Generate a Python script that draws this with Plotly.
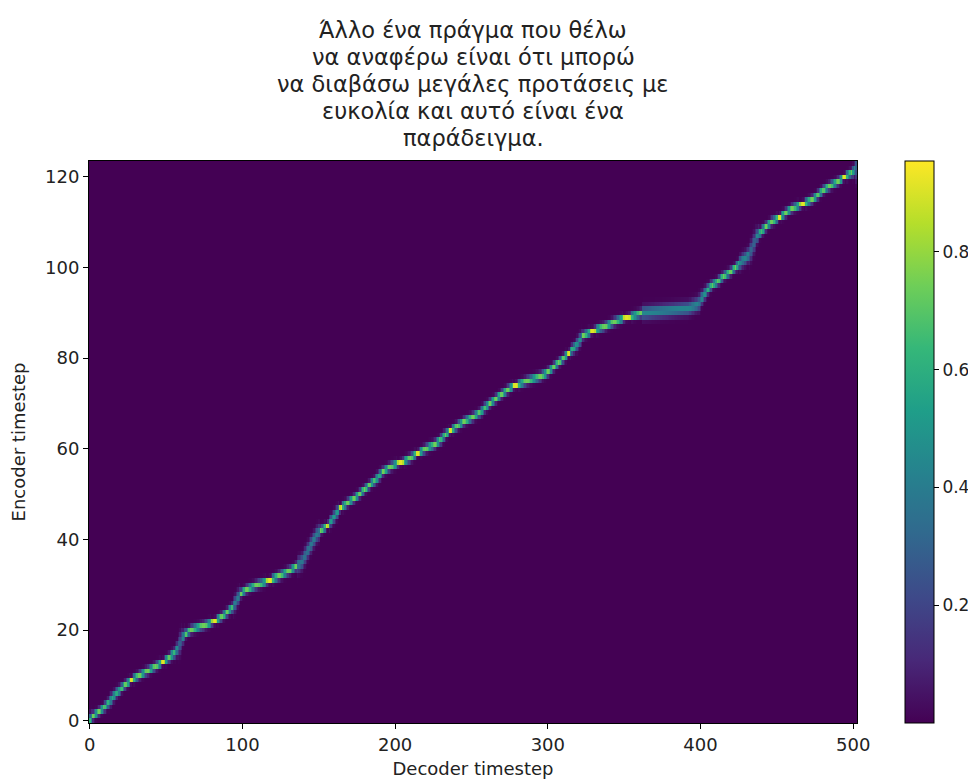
import numpy as np
import plotly.graph_objects as go

# ---- data ----
n_decoder = 503
n_encoder = 124

# decoder timestep at which the attention band is centred on each encoder timestep (0..123)
enc_center_step = [
    0, 2, 6.1, 9.8, 12.7, 14.9, 17.4, 20.1, 23.4, 27.2,
    32.4, 37.8, 43, 48, 52.6, 55.5, 57.6, 59, 60.2, 62.2,
    66, 74.7, 82, 86.7, 90.5, 93.5, 95.2, 96.8, 98.5, 102.5,
    109.6, 118, 124.3, 130.5, 135.3, 139, 140.6, 142.1, 143.7, 145.3,
    147, 148.7, 150.9, 155.5, 157.7, 160, 162.2, 164.5, 168.6, 173.1,
    176.7, 180, 183.5, 186.8, 189.4, 192, 196.7, 203.6, 210, 214.5,
    219.9, 226.1, 229.9, 232.7, 236.3, 241, 244.9, 251, 256, 258.7,
    261.7, 265.8, 269.5, 273.6, 278.5, 286.1, 295.8, 300.3, 303.7, 307.2,
    310.6, 313.7, 316.4, 319, 321, 323, 329.4, 337.2, 343.3, 351.6,
    362, 392, 398.8, 400.4, 402.4, 404.6, 407.3, 411.7, 414.7, 419.6,
    423.1, 426, 429, 432, 433.3, 434.5, 435.8, 437, 440, 442.9,
    446.5, 451.6, 455.8, 460, 467, 473.3, 477, 480.1, 484.5, 490.2,
    494.2, 499.7, 502, 503,
]

# encoder timesteps where the band shows a bright (yellow) spot
bright_encoders = [9, 13, 22, 31, 43, 47, 57, 59, 64, 74, 81, 86, 89, 111, 114, 120]

# decoder ranges where the attention is visibly blurred: (start, end, spread)
diffuse_segments = [(362, 398, 0.9), (136, 150, 1.0), (426, 438, 0.9)]

x_tick_vals = [0, 100, 200, 300, 400, 500]
y_tick_vals = [0, 20, 40, 60, 80, 100, 120]
cbar_tick_vals = [0.2, 0.4, 0.6, 0.8]
z_min = 0.0005
z_max = 0.954

title_lines = [
    "Άλλο ένα πράγμα που θέλω",
    "να αναφέρω είναι ότι μπορώ",
    "να διαβάσω μεγάλες προτάσεις με",
    "ευκολία και αυτό είναι ένα",
    "παράδειγμα.",
]

# ---- build the alignment matrix from the read band positions ----
centers = np.array(enc_center_step, dtype=float)
enc_idx = np.arange(n_encoder)
bright = set(bright_encoders)
z = np.zeros((n_encoder, n_decoder))
for t in range(n_decoder):
    k = int(np.searchsorted(centers, t, side="right") - 1)
    k = max(0, min(k, n_encoder - 2))
    gap = max(centers[k + 1] - centers[k], 1e-6)
    frac = min(max((t - centers[k]) / gap, 0.0), 1.0)
    pos = k + frac
    slope = 1.0 / gap
    sigma = 0.52 + 1.6 * max(0.0, slope - 0.3)
    if int(round(pos)) in bright and abs(pos - round(pos)) < 0.3:
        sigma = min(sigma, 0.38)
    for a, b, s in diffuse_segments:
        if a <= t <= b:
            sigma = max(sigma, s)
    w = np.exp(-((enc_idx - pos) ** 2) / (2 * sigma ** 2)) + 2e-4
    z[:, t] = w / w.sum()

z = np.clip(z, z_min, z_max)

# page has an 8px body margin: figure is 968x771 so it fills the 976x779 window
FIG_W, FIG_H = 968, 771
M_L, M_R, M_T, M_B = 81, 119, 153, 56
PLOT_H = FIG_H - M_T - M_B

fig = go.Figure(
    go.Heatmap(
        z=z,
        x=np.arange(n_decoder),
        y=enc_idx,
        colorscale="Viridis",
        zmin=z_min,
        zmax=z_max,
        colorbar=dict(
            thickness=29,
            len=1.0,
            lenmode="fraction",
            xref="container",
            x=(905 - 8) / FIG_W,
            xanchor="left",
            y=0.5,
            yanchor="middle",
            xpad=0,
            ypad=0,
            outlinewidth=1,
            outlinecolor="black",
            tickvals=cbar_tick_vals,
            ticktext=[f"{v:.1f}" for v in cbar_tick_vals],
            ticks="outside",
            ticklen=5,
            tickcolor="black",
            tickfont=dict(size=17, color="#222"),
        ),
    )
)

axis_common = dict(
    showgrid=False,
    zeroline=False,
    showline=True,
    linecolor="black",
    linewidth=1,
    mirror=True,
    ticks="outside",
    ticklen=5,
    tickcolor="black",
    automargin=False,
    tickfont=dict(size=18, color="#222"),
)

# title lines, centred above the plot area (line centres in figure pixels from top)
title_centres_px = [22, 49, 76, 103, 130]
for line, cy in zip(title_lines, title_centres_px):
    fig.add_annotation(
        text=line,
        xref="paper",
        yref="paper",
        x=0.5,
        y=1 + (M_T - cy) / PLOT_H,
        xanchor="center",
        yanchor="middle",
        showarrow=False,
        font=dict(size=22.5, color="#222"),
    )

fig.update_layout(
    width=FIG_W,
    height=FIG_H,
    margin=dict(l=M_L, r=M_R, t=M_T, b=M_B),
    paper_bgcolor="white",
    plot_bgcolor="white",
    font=dict(family="DejaVu Sans", color="#222"),
    xaxis=dict(
        range=[-0.5, n_decoder - 0.5],
        tickvals=x_tick_vals,
        title=dict(text="Decoder timestep", font=dict(size=18), standoff=10),
        **axis_common,
    ),
    yaxis=dict(
        range=[-0.5, n_encoder - 0.5],
        tickvals=y_tick_vals,
        title=dict(text="Encoder timestep", font=dict(size=18), standoff=14),
        **axis_common,
    ),
)

fig.write_html("out.html")
